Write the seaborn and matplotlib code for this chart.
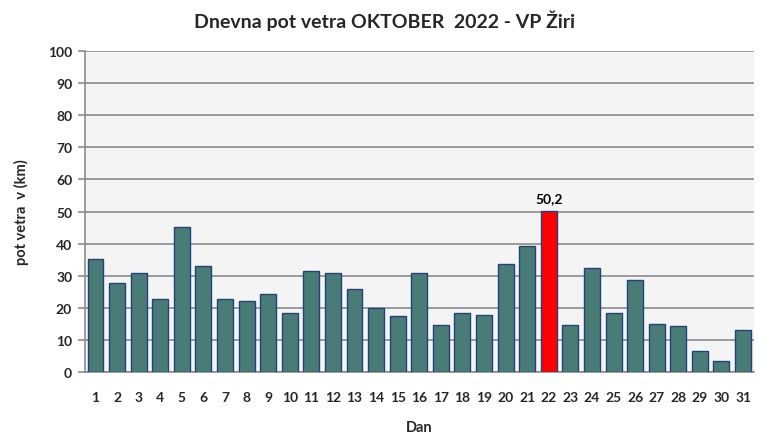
import matplotlib
matplotlib.use("Agg")
import matplotlib.pyplot as plt
import seaborn as sns
import pandas as pd

days = [str(d) for d in range(1, 32)]
values = [35.1, 27.6, 31.0, 22.9, 45.3, 32.9, 22.9, 22.0, 24.2, 18.3,
          31.6, 31.0, 26.0, 19.8, 17.3, 30.7, 14.8, 18.3, 17.9, 33.5,
          39.4, 50.2, 14.5, 32.3, 18.3, 28.8, 15.1, 14.2, 6.4, 3.3, 13.0]
max_label = "50,2"

sns.set_theme(style="white")
plt.rcParams['font.family'] = ['Lato', 'DejaVu Sans']

df = pd.DataFrame({"Dan": days, "val": values})
vmax = max(values)
colors = {d: ("#FF0000" if v == vmax else "#4A7C77") for d, v in zip(days, values)}

fig = plt.figure(figsize=(7.7, 4.39), dpi=100)
ax = fig.add_axes([0.110, 0.1503, 0.869, 0.7312])
ax.set_facecolor("#F4F4F4")

sns.barplot(data=df, x="Dan", y="val", hue="Dan", palette=colors, legend=False,
            saturation=1, width=0.74, edgecolor="#23427A", linewidth=1.0,
            ax=ax, zorder=3)

ax.set_ylim(0, 100)
ax.set_xlim(-0.5, 30.5)
ax.set_yticks(range(0, 101, 10))
ax.yaxis.grid(True, color="#8C8C8C", linewidth=1.2, zorder=0)
ax.set_axisbelow(True)
for s in ["top", "right"]:
    ax.spines[s].set_visible(False)
for s in ["left", "bottom"]:
    ax.spines[s].set_color("#8C8C8C")
    ax.spines[s].set_linewidth(1.2)
ax.tick_params(axis="y", which="both", left=True, length=5, color="#8C8C8C",
               width=1.2, labelsize=10, pad=4)
ax.tick_params(axis="x", bottom=False, labelsize=10, pad=8)
for lab in ax.get_xticklabels() + ax.get_yticklabels():
    lab.set_fontweight("bold")

imax = values.index(vmax)
ax.text(imax, vmax + 2, max_label, ha="center", va="bottom",
        fontsize=10, fontweight="bold", color="black")

ax.set_xlabel("Dan", fontsize=10.5, fontweight="bold", labelpad=12)
ax.set_ylabel("pot vetra  v (km)", fontsize=10.5, fontweight="bold", labelpad=14)
fig.suptitle("Dnevna pot vetra OKTOBER  2022 - VP Žiri", x=0.5, y=0.975,
             fontsize=14, fontweight="bold")

fig.savefig("out.png", dpi=100, facecolor="white")
